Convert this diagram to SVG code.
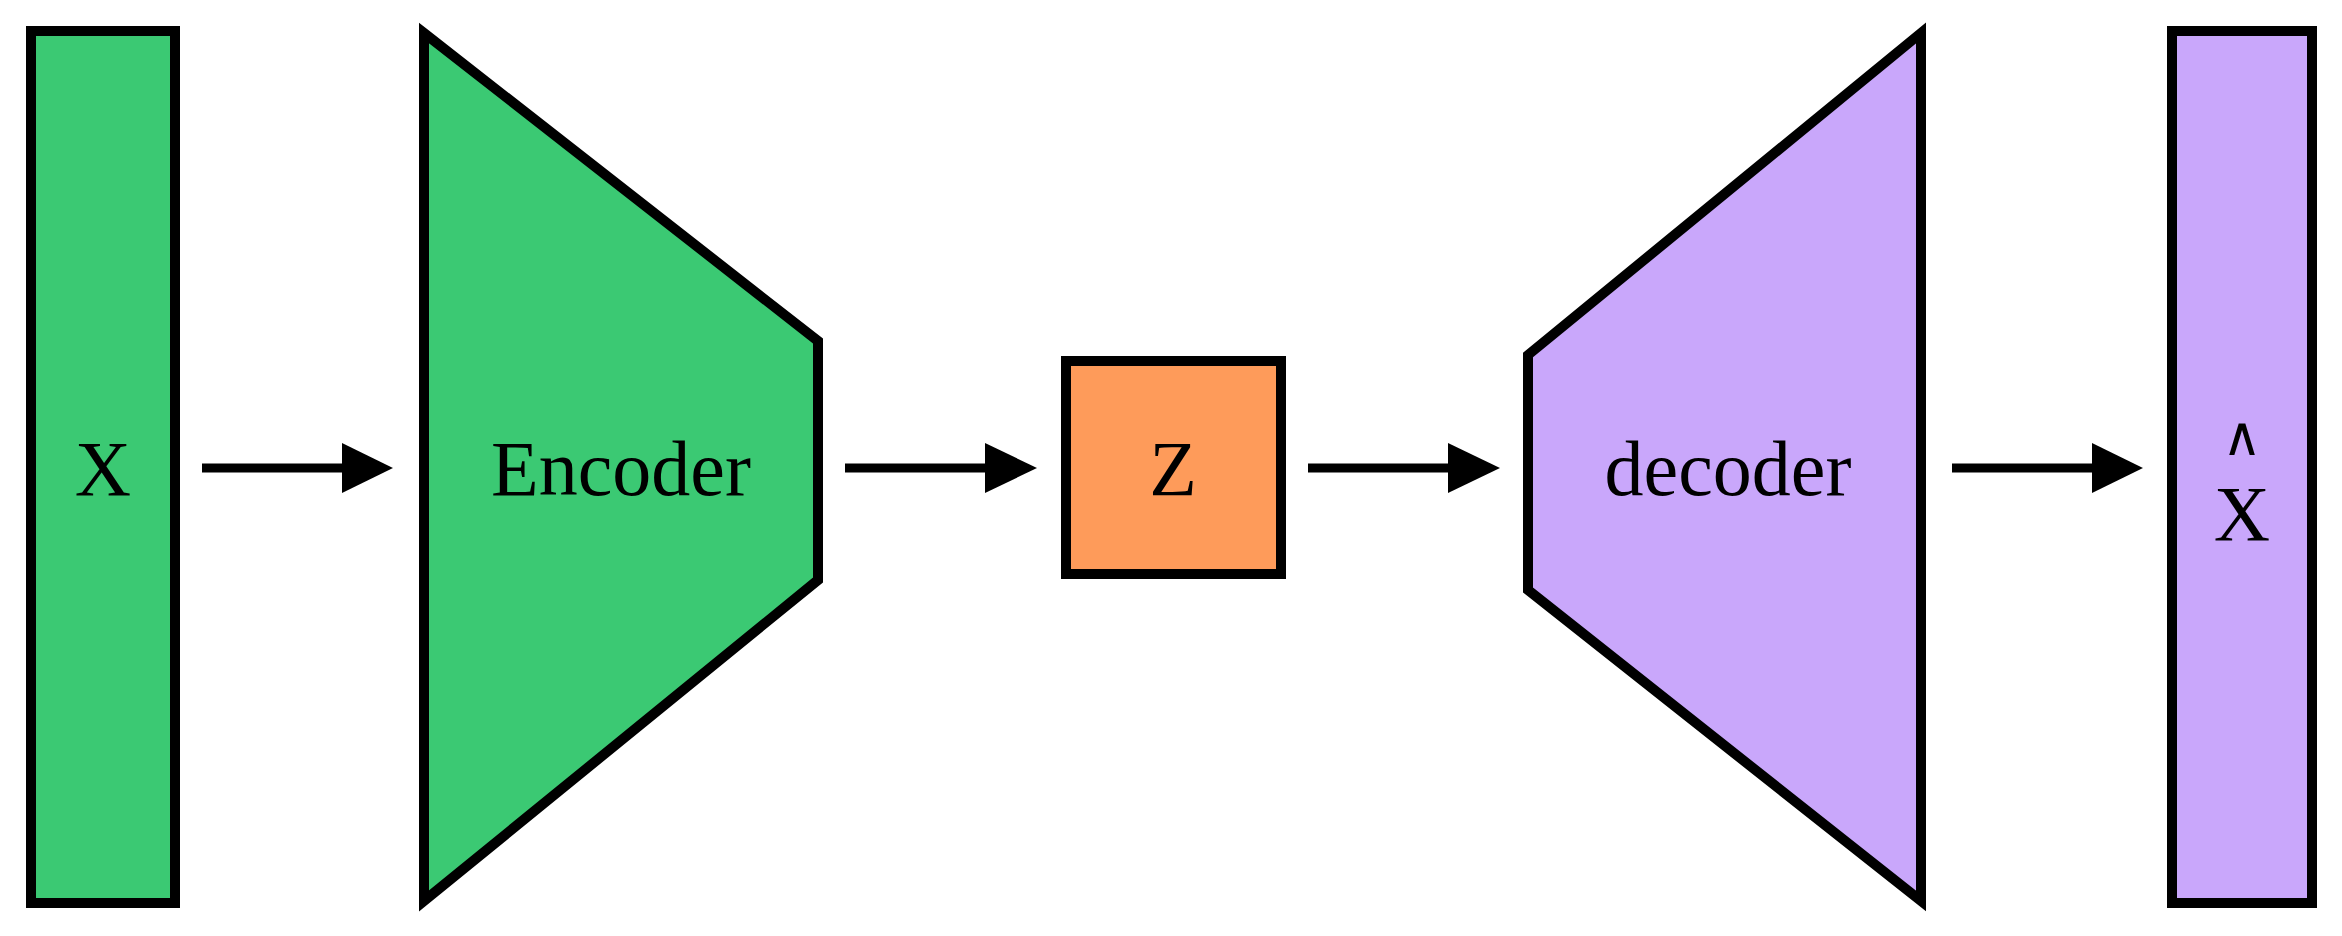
<svg xmlns="http://www.w3.org/2000/svg" width="2342" height="936" viewBox="0 0 2342 936">
<style>
.s{stroke:#000;stroke-width:10}
.g{fill:#3bc973}.p{fill:#c9a7fb}.o{fill:#fe9b5a}
text{font-family:"Liberation Serif",serif;font-size:78px;text-anchor:middle;fill:#000}
.c{stroke:#000;stroke-width:9;fill:none}
</style>
<rect width="2342" height="936" fill="#fff"/>
<g id="x"><rect class="s g" x="31" y="31" width="144" height="872"/><text x="103" y="495">X</text></g>
<g id="encoder"><polygon class="s g" points="424,33 818,341 818,580 424,901"/><text x="621" y="495">Encoder</text></g>
<g id="z"><rect class="s o" x="1066" y="361" width="215" height="213"/><text x="1173" y="495">Z</text></g>
<g id="decoder"><polygon class="s p" points="1528,355 1921,33 1921,901 1528,590"/><text x="1728" y="495">decoder</text></g>
<g id="xhat"><rect class="s p" x="2172" y="31" width="140" height="872"/><text x="2242" y="540">X<tspan x="2242" dy="-85" style="font-family:'DejaVu Serif',serif;font-size:54px">∧</tspan></text></g>
<g id="connectors">
<path class="c" d="M202,468H345"/><polygon points="342,443 393,468 342,493"/>
<path class="c" d="M845,468H988"/><polygon points="985,443 1037,468 985,493"/>
<path class="c" d="M1308,468H1451"/><polygon points="1448,443 1500,468 1448,493"/>
<path class="c" d="M1952,468H2095"/><polygon points="2092,443 2143,468 2092,493"/>
</g>
</svg>
